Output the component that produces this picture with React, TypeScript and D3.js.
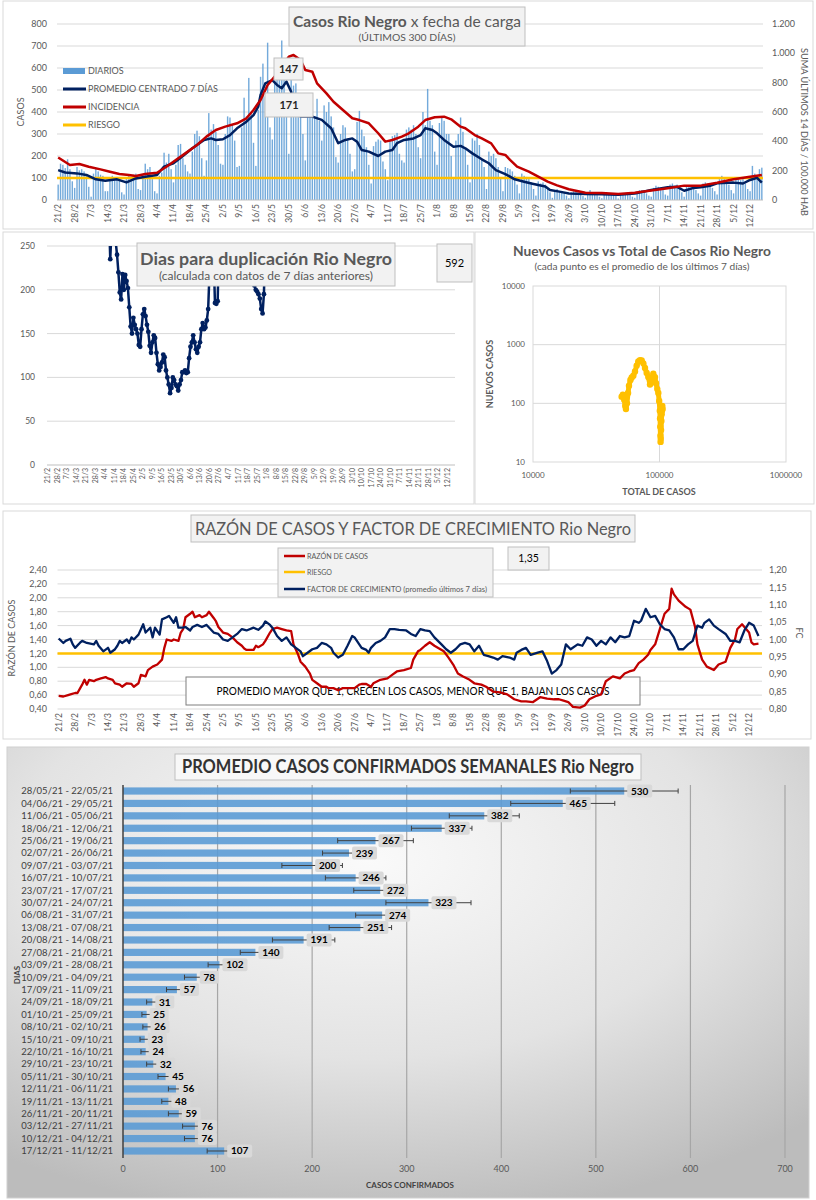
import * as d3 from "d3";
import { useEffect, useRef } from "react";

const FUENTE = "Lato, 'Open Sans', sans-serif";
const AZUL = "#002060";
const ROJO = "#c00000";
const ORO = "#ffc000";
const CELESTE = "#5b9bd5";
const GRIS = "#595959";
const GRILLA = "#d9d9d9";

// etiquetas semanales del eje de fechas (día 0 = 21/2)
const fechas = ["21/2", "28/2", "7/3", "14/3", "21/3", "28/3", "4/4", "11/4", "18/4", "25/4", "2/5", "9/5", "16/5", "23/5", "30/5", "6/6", "13/6", "20/6", "27/6", "4/7", "11/7", "18/7", "25/7", "1/8", "8/8", "15/8", "22/8", "29/8", "5/9", "12/9", "19/9", "26/9", "3/10", "10/10", "17/10", "24/10", "31/10", "7/11", "14/11", "21/11", "28/11", "5/12", "12/12"];

// casos diarios, 300 días
const diarios = [
  70, 165, 160, 145, 185, 140, 85,
  55, 150, 135, 140, 130, 110, 60,
  15, 120, 145, 130, 115, 110, 40,
  40, 95, 110, 100, 105, 90, 35,
  25, 100, 110, 95, 115, 120, 50,
  45, 115, 165, 140, 150, 95, 40,
  30, 110, 125, 215, 170, 210, 140,
  80, 160, 250, 255, 190, 160, 130,
  120, 220, 300, 315, 290, 190, 110,
  180, 395, 320, 345, 310, 250, 165,
  160, 300, 380, 375, 345, 270, 150,
  155, 330, 465, 380, 555, 400, 260,
  155, 410, 560, 620, 470, 715, 330,
  275, 560, 620, 560, 725, 590, 420,
  210, 560, 520, 530, 480, 470, 300,
  180, 430, 400, 440, 380, 460, 360,
  270, 430, 400, 445, 380, 330, 195,
  170, 300, 340, 330, 280, 210, 130,
  140, 355, 405, 320, 290, 240, 160,
  75, 245, 265, 275, 270, 175, 140,
  90, 270, 290, 295, 305, 210, 180,
  170, 320, 330, 320, 340, 300, 240,
  190, 400, 340, 505, 360, 340, 220,
  160, 350, 380, 360, 300, 300, 200,
  100, 270, 300, 375, 310, 230, 160,
  80, 280, 270, 300, 250, 190, 150,
  50, 220, 200, 210, 190, 150, 100,
  40, 150, 145, 140, 130, 110, 70,
  30, 120, 110, 105, 95, 80, 50,
  20, 85, 75, 80, 70, 55, 35,
  10, 45, 50, 40, 40, 30, 20,
  8, 35, 40, 35, 30, 28, 18,
  10, 32, 45, 35, 30, 22, 15,
  8, 30, 35, 30, 28, 25, 18,
  7, 28, 32, 30, 30, 25, 15,
  10, 38, 45, 45, 40, 30, 20,
  15, 55, 65, 60, 55, 45, 25,
  20, 70, 75, 65, 70, 50, 35,
  15, 60, 65, 60, 55, 45, 30,
  20, 75, 80, 75, 70, 55, 40,
  25, 95, 110, 100, 90, 70, 45,
  30, 100, 95, 90, 95, 75, 50,
  40, 155, 120, 100, 140, 147,
];

// promedio centrado 7 días (eje izquierdo)
const promedioDia = [0, 3, 8, 12, 16, 20, 25, 29, 33, 37, 42, 45, 49, 53, 57, 62, 65, 67, 70, 73, 76, 80, 83, 85, 86, 88, 91, 93, 95, 97, 99, 100, 103, 108, 112, 116, 119, 122, 125, 127, 129, 132, 136, 139, 142, 144, 147, 151, 154, 156, 159, 161, 164, 168, 171, 173, 176, 180, 183, 186, 190, 194, 198, 202, 207, 209, 213, 217, 224, 231, 238, 245, 252, 259, 263, 266, 270, 273, 277, 280, 287, 291, 294, 297, 299];
const promedio = [136, 125, 121, 114, 94, 88, 94, 80, 98, 106, 114, 152, 167, 200, 235, 273, 280, 273, 276, 295, 326, 356, 386, 424, 477, 530, 545, 523, 508, 538, 492, 394, 380, 379, 364, 326, 258, 273, 280, 265, 227, 220, 200, 220, 227, 258, 273, 280, 295, 326, 318, 303, 273, 242, 246, 235, 212, 185, 167, 136, 118, 94, 83, 73, 61, 45, 38, 30, 27, 26, 24, 30, 45, 58, 60, 42, 55, 58, 65, 76, 79, 75, 91, 101, 79];

// incidencia: suma últimos 14 días / 100.000 hab (eje derecho)
const incidenciaDia = [0, 5, 9, 13, 18, 22, 26, 30, 33, 37, 42, 46, 50, 54, 59, 63, 67, 71, 76, 80, 83, 86, 89, 92, 95, 98, 100, 103, 105, 108, 110, 114, 117, 121, 125, 128, 132, 136, 139, 142, 146, 149, 153, 156, 160, 164, 167, 171, 173, 177, 180, 184, 187, 190, 192, 195, 200, 204, 208, 212, 217, 224, 231, 238, 245, 252, 259, 266, 273, 280, 287, 294, 299];
const incidencia = [290, 239, 245, 227, 209, 193, 177, 170, 163, 177, 186, 227, 273, 318, 375, 432, 477, 500, 523, 557, 614, 682, 784, 841, 909, 977, 989, 955, 886, 875, 795, 727, 670, 614, 557, 545, 523, 455, 398, 409, 432, 455, 500, 545, 564, 568, 550, 500, 489, 443, 420, 386, 318, 307, 273, 227, 193, 159, 125, 100, 73, 50, 48, 41, 50, 64, 80, 98, 98, 118, 141, 159, 171];

const riesgoCasos = 100;
const ejeCasos = [0, 100, 200, 300, 400, 500, 600, 700, 800];
const ejeIncidencia = [0, 200, 400, 600, 800, 1000, 1200];
const etiquetasIncidencia = ["0", "200", "400", "600", "800", "1.000", "1.200"];

// días para duplicación, uno por día desde el día 44
const duplicacionInicio = 44;
const duplicacion = [
  330, 290, 235, 270, 300, 270, 255, 240, 220, 197, 189, 218, 200, 217, 210, 202,
  180, 158, 150, 168, 160, 155, 150, 137, 135, 155, 172, 178, 170, 160, 152, 136,
  128, 140, 148, 145, 128, 115, 108, 112, 117, 126, 123, 108, 100, 92, 82, 88,
  100, 97, 92, 90, 85, 92, 97, 106, 106, 108, 105, 106, 122, 135, 140, 148,
  140, 132, 128, 135, 140, 155, 162, 155, 157, 165, 178, 220, 290, 310, 240, 185,
  184, 187, 260, 330, 360, 410, 440, 470, 430, 400, 420, 460, 500, 480, 450, 430,
  400, 380, 370, 350, 340, 330, 310, 300, 290, 280, 270, 210, 205, 200, 198, 195,
  190, 178, 173, 195, 260, 320, 380,
];
const ultimaDuplicacion = 592;
const ejeDuplicacion = [0, 50, 100, 150, 200, 250];

// nuevos casos (promedio 7 días) vs total de casos
const dispersionTotal = [50200, 51300, 52600, 53600, 54300, 55300, 56400, 57400, 58900, 60300, 62100, 64000, 66000, 68000, 70100, 72300, 74500, 76800, 79200, 81600, 84100, 86700, 89300, 92100, 93800, 96100, 97900, 99400, 100600, 101000, 101400, 101700, 102000, 102300, 102900, 103500, 104000, 104600, 105200, 105800];
const dispersionNuevos = [130, 140, 115, 90, 80, 100, 150, 200, 250, 275, 295, 350, 440, 520, 545, 540, 480, 400, 330, 280, 210, 250, 320, 280, 220, 175, 150, 110, 75, 55, 40, 28, 22, 25, 35, 50, 65, 75, 90, 80];
const ejeDispersionX = [10000, 100000, 1000000];
const ejeDispersionY = [10, 100, 1000, 10000];

// razón de casos (eje izquierdo) y factor de crecimiento (eje derecho)
const razonDia = [0, 2, 4, 5, 7, 8, 10, 11, 12, 13, 15, 16, 18, 20, 21, 23, 24, 26, 27, 29, 31, 32, 34, 35, 37, 38, 40, 42, 44, 45, 46, 48, 49, 51, 52, 53, 54, 56, 57, 58, 60, 61, 63, 64, 66, 67, 68, 70, 72, 74, 76, 78, 79, 80, 83, 84, 85, 87, 88, 90, 91, 93, 95, 97, 99, 100, 102, 103, 105, 107, 108, 110, 112, 114, 115, 117, 119, 121, 124, 126, 128, 129, 131, 133, 134, 137, 140, 142, 144, 147, 150, 151, 153, 154, 156, 158, 160, 162, 164, 166, 168, 170, 172, 175, 177, 180, 182, 185, 188, 191, 194, 197, 199, 202, 205, 208, 211, 213, 215, 217, 219, 222, 224, 226, 229, 231, 233, 236, 239, 241, 243, 245, 247, 249, 251, 252, 254, 256, 258, 260, 261, 262, 264, 267, 269, 271, 272, 274, 276, 279, 281, 284, 286, 288, 289, 291, 294, 295, 296, 298];
const razon = [0.59, 0.58, 0.6, 0.61, 0.63, 0.63, 0.75, 0.82, 0.75, 0.82, 0.8, 0.82, 0.84, 0.86, 0.84, 0.82, 0.77, 0.75, 0.72, 0.77, 0.76, 0.72, 0.77, 0.89, 0.87, 0.96, 1.01, 1.04, 1.11, 1.28, 1.4, 1.38, 1.4, 1.38, 1.5, 1.55, 1.72, 1.77, 1.8, 1.72, 1.75, 1.72, 1.75, 1.8, 1.71, 1.66, 1.58, 1.5, 1.48, 1.43, 1.36, 1.31, 1.27, 1.25, 1.25, 1.31, 1.29, 1.33, 1.38, 1.5, 1.55, 1.57, 1.55, 1.53, 1.52, 1.33, 1.18, 1.08, 1.01, 0.91, 0.82, 0.77, 0.72, 0.72, 0.7, 0.7, 0.67, 0.7, 0.7, 0.7, 0.75, 0.76, 0.76, 0.72, 0.77, 0.82, 0.84, 0.89, 0.94, 0.96, 0.99, 1.11, 1.23, 1.25, 1.31, 1.36, 1.31, 1.27, 1.23, 1.14, 1.04, 0.91, 0.87, 0.82, 0.77, 0.75, 0.72, 0.65, 0.64, 0.61, 0.54, 0.51, 0.51, 0.5, 0.57, 0.55, 0.54, 0.54, 0.52, 0.5, 0.43, 0.42, 0.45, 0.54, 0.59, 0.61, 0.8, 0.87, 0.84, 0.91, 0.94, 0.96, 1.06, 1.11, 1.18, 1.25, 1.33, 1.55, 1.77, 1.84, 2.13, 2.05, 1.96, 1.87, 1.83, 1.58, 1.33, 1.11, 1.01, 0.96, 1.04, 1.08, 1.28, 1.4, 1.55, 1.62, 1.5, 1.36, 1.33, 1.34, 1.31, 1.35];
const fcDia = [0, 2, 3, 5, 6, 7, 9, 10, 12, 15, 16, 17, 19, 21, 22, 24, 25, 26, 27, 29, 30, 31, 32, 34, 36, 37, 39, 40, 41, 43, 44, 46, 47, 49, 50, 51, 53, 54, 56, 57, 59, 61, 63, 66, 68, 70, 72, 74, 76, 78, 80, 83, 85, 87, 88, 90, 91, 93, 95, 97, 99, 101, 103, 104, 106, 108, 110, 112, 114, 116, 117, 119, 121, 123, 125, 126, 129, 131, 132, 133, 135, 137, 139, 141, 143, 145, 148, 150, 152, 154, 156, 158, 160, 163, 165, 167, 169, 171, 173, 175, 177, 179, 181, 183, 185, 187, 189, 192, 194, 195, 197, 199, 201, 204, 206, 208, 210, 212, 214, 216, 218, 221, 223, 225, 227, 229, 231, 233, 235, 237, 239, 241, 243, 245, 247, 248, 250, 252, 254, 256, 258, 260, 262, 264, 266, 268, 270, 272, 274, 275, 277, 279, 281, 284, 286, 288, 290, 292, 294, 296, 298];
const fc = [1.003, 0.99, 0.996, 1.002, 0.986, 0.976, 0.99, 0.996, 0.99, 0.986, 0.996, 0.982, 0.966, 0.976, 0.962, 0.972, 0.982, 0.996, 0.99, 1.0, 0.99, 1.006, 1.0, 1.014, 1.044, 1.02, 1.034, 1.006, 1.034, 1.014, 1.058, 1.064, 1.068, 1.048, 1.064, 1.034, 1.034, 1.036, 1.026, 1.036, 1.042, 1.036, 1.042, 1.02, 1.016, 1.0, 0.996, 1.006, 1.016, 1.03, 1.026, 1.034, 1.028, 1.04, 1.052, 1.042, 1.034, 1.01, 0.996, 1.006, 0.986, 0.976, 0.966, 0.952, 0.962, 0.972, 0.976, 0.99, 0.986, 0.976, 0.962, 0.948, 0.956, 0.982, 1.01, 1.006, 0.976, 0.97, 0.962, 0.976, 0.99, 0.996, 1.006, 1.03, 1.03, 1.028, 1.026, 1.016, 1.01, 1.03, 1.026, 1.024, 1.006, 0.986, 0.972, 0.962, 0.972, 0.986, 0.99, 0.986, 0.966, 0.982, 0.956, 0.952, 0.948, 0.942, 0.952, 0.948, 0.942, 0.962, 0.97, 0.976, 0.956, 0.962, 0.966, 0.938, 0.902, 0.912, 0.928, 0.986, 0.972, 0.986, 0.982, 1.006, 1.0, 0.982, 0.996, 0.986, 1.006, 0.992, 1.01, 1.006, 1.01, 1.054, 1.048, 1.054, 1.088, 1.064, 1.068, 1.044, 1.03, 1.026, 1.006, 0.972, 0.972, 0.986, 0.996, 1.04, 1.034, 1.048, 1.058, 1.04, 1.03, 1.016, 0.996, 0.996, 0.992, 1.026, 1.048, 1.04, 1.01];
const riesgoRazon = 1.2;
const ejeRazon = [0.4, 0.6, 0.8, 1.0, 1.2, 1.4, 1.6, 1.8, 2.0, 2.2, 2.4];
const ejeFc = [0.8, 0.85, 0.9, 0.95, 1.0, 1.05, 1.1, 1.15, 1.2];

// promedio de casos confirmados por semana
const semanas = ["28/05/21 - 22/05/21", "04/06/21 - 29/05/21", "11/06/21 - 05/06/21", "18/06/21 - 12/06/21", "25/06/21 - 19/06/21", "02/07/21 - 26/06/21", "09/07/21 - 03/07/21", "16/07/21 - 10/07/21", "23/07/21 - 17/07/21", "30/07/21 - 24/07/21", "06/08/21 - 31/07/21", "13/08/21 - 07/08/21", "20/08/21 - 14/08/21", "27/08/21 - 21/08/21", "03/09/21 - 28/08/21", "10/09/21 - 04/09/21", "17/09/21 - 11/09/21", "24/09/21 - 18/09/21", "01/10/21 - 25/09/21", "08/10/21 - 02/10/21", "15/10/21 - 09/10/21", "22/10/21 - 16/10/21", "29/10/21 - 23/10/21", "05/11/21 - 30/10/21", "12/11/21 - 06/11/21", "19/11/21 - 13/11/21", "26/11/21 - 20/11/21", "03/12/21 - 27/11/21", "10/12/21 - 04/12/21", "17/12/21 - 11/12/21"];
const promedios = [530, 465, 382, 337, 267, 239, 200, 246, 272, 323, 274, 251, 191, 140, 102, 78, 57, 31, 25, 26, 23, 24, 32, 45, 56, 48, 59, 76, 76, 107];
const errores = [57, 55, 37, 32, 40, 28, 32, 32, 28, 45, 28, 33, 33, 16, 12, 13, 11, 6, 5, 5, 5, 5, 7, 8, 8, 7, 11, 13, 11, 18];
const ejeSemanal = [0, 100, 200, 300, 400, 500, 600, 700];

type Sel = d3.Selection<any, any, any, any>;

function texto(g: Sel, x: number, y: number, s: string, size: number, o: any = {}) {
  const t = g.append("text")
    .attr("x", x).attr("y", y)
    .attr("font-size", size)
    .attr("fill", o.fill ?? GRIS)
    .attr("text-anchor", o.anchor ?? "start")
    .attr("font-weight", o.bold ? "bold" : "normal")
    .text(s);
  if (o.dy) t.attr("dy", o.dy);
  if (o.len) t.attr("textLength", o.len).attr("lengthAdjust", "spacingAndGlyphs");
  if (o.rot) t.attr("transform", `rotate(${o.rot},${x},${y})`);
  return t;
}

function caja(g: Sel, x: number, y: number, w: number, h: number, fill = "#f2f2f2", stroke = "#bfbfbf") {
  return g.append("rect").attr("x", x).attr("y", y).attr("width", w).attr("height", h)
    .attr("fill", fill).attr("stroke", stroke);
}

function marco(g: Sel, x: number, y: number, w: number, h: number) {
  caja(g, x, y, w, h, "#fff", GRILLA);
}

function etiquetasFecha(g: Sel, x: d3.ScaleLinear<number, number>, y: number, size: number) {
  g.append("g").selectAll("text").data(fechas).join("text")
    .attr("x", (_, i) => x(i * 7 + 0.5)).attr("y", y)
    .attr("dy", "0.35em")
    .attr("text-anchor", "end")
    .attr("font-size", size)
    .attr("fill", GRIS)
    .attr("transform", (_, i) => `rotate(-90,${x(i * 7 + 0.5)},${y})`)
    .text(d => d);
}

function graficoCasos(g: Sel) {
  marco(g, 3, 1, 810, 228);
  const x = d3.scaleLinear().domain([0, 300]).range([57, 763]);
  const yL = d3.scaleLinear().domain([0, 800]).range([200, 24]);
  const yR = d3.scaleLinear().domain([0, 1200]).range([200, 24]);

  g.append("g").selectAll("line").data(ejeCasos.slice(1)).join("line")
    .attr("x1", x(0)).attr("x2", x(300)).attr("y1", d => yL(d)).attr("y2", d => yL(d))
    .attr("stroke", GRILLA);

  const bw = x(1) - x(0);
  g.append("g").selectAll("rect").data(diarios).join("rect")
    .attr("x", (_, i) => x(i) + bw * 0.2).attr("width", bw * 0.6)
    .attr("y", d => yL(d)).attr("height", d => yL(0) - yL(d))
    .attr("fill", CELESTE).attr("opacity", 0.85);

  g.append("line").attr("x1", x(0)).attr("x2", x(300)).attr("y1", yL(0)).attr("y2", yL(0)).attr("stroke", "#bfbfbf");

  g.append("line").attr("x1", x(0)).attr("x2", x(300))
    .attr("y1", yL(riesgoCasos)).attr("y2", yL(riesgoCasos))
    .attr("stroke", ORO).attr("stroke-width", 2.5);

  const lineaProm = d3.line<number>().x((_, i) => x(promedioDia[i] + 0.5)).y(d => yL(d));
  g.append("path").datum(promedio).attr("d", lineaProm).attr("fill", "none")
    .attr("stroke", AZUL).attr("stroke-width", 2.5).attr("stroke-linejoin", "round");

  const lineaInc = d3.line<number>().x((_, i) => x(incidenciaDia[i] + 0.5)).y(d => yR(d));
  g.append("path").datum(incidencia).attr("d", lineaInc).attr("fill", "none")
    .attr("stroke", ROJO).attr("stroke-width", 2.5).attr("stroke-linejoin", "round");

  ejeCasos.forEach(v => texto(g, 47, yL(v), String(v), 9, { anchor: "end", dy: "0.35em" }));
  ejeIncidencia.forEach((v, i) => texto(g, 772, yR(v), etiquetasIncidencia[i], 9, { dy: "0.35em" }));
  etiquetasFecha(g, x, 204, 8.5);

  texto(g, 24, 112, "CASOS", 9, { anchor: "middle", rot: -90 });
  texto(g, 801, 132, "SUMA  ÚLTIMOS 14 DÍAS / 100.000 HAB", 9.5, { anchor: "middle", rot: 90, len: 168 });

  // leyenda
  const ly = [71, 89, 107, 125];
  g.append("rect").attr("x", 63).attr("y", ly[0] - 3).attr("width", 22).attr("height", 6).attr("fill", CELESTE);
  [AZUL, ROJO, ORO].forEach((c, i) => g.append("line").attr("x1", 63).attr("x2", 86)
    .attr("y1", ly[i + 1]).attr("y2", ly[i + 1]).attr("stroke", c).attr("stroke-width", 3));
  ["DIARIOS", "PROMEDIO CENTRADO 7 DÍAS", "INCIDENCIA", "RIESGO"].forEach((s, i) =>
    texto(g, 88, ly[i], s, 9, { dy: "0.35em" }));

  // título
  caja(g, 289, 7, 236, 39);
  const t = texto(g, 407, 27, "", 16, { anchor: "middle", len: 228 });
  t.append("tspan").attr("font-weight", "bold").text("Casos Rio Negro");
  t.append("tspan").text(" x fecha de carga");
  texto(g, 407, 41, "(ÚLTIMOS 300 DÍAS)", 9.5, { anchor: "middle", len: 97 });

  // últimos valores
  caja(g, 274, 58, 29, 22);
  texto(g, 288.5, 69, String(diarios[diarios.length - 1]), 11, { anchor: "middle", dy: "0.35em", bold: true, fill: "#262626" });
  caja(g, 265, 93, 48, 24);
  texto(g, 289, 105, String(incidencia[incidencia.length - 1]), 11, { anchor: "middle", dy: "0.35em", bold: true, fill: "#262626" });
}

function graficoDuplicacion(g: Sel) {
  marco(g, 3, 232, 471, 272);
  const x = d3.scaleLinear().domain([0, 300]).range([47, 455]);
  const y = d3.scaleLinear().domain([0, 250]).range([465, 246]);

  g.append("g").selectAll("line").data(ejeDuplicacion.slice(1)).join("line")
    .attr("x1", x(0)).attr("x2", x(300)).attr("y1", d => y(d)).attr("y2", d => y(d))
    .attr("stroke", GRILLA);
  g.append("line").attr("x1", x(0)).attr("x2", x(300)).attr("y1", y(0)).attr("y2", y(0)).attr("stroke", "#bfbfbf");

  g.append("clipPath").attr("id", "clipDup").append("rect")
    .attr("x", x(0)).attr("y", y(250)).attr("width", x(300) - x(0)).attr("height", y(0) - y(250) + 5);
  const gc = g.append("g").attr("clip-path", "url(#clipDup)");
  const linea = d3.line<number>().x((_, i) => x(duplicacionInicio + i + 0.5)).y(d => y(d));
  gc.append("path").datum(duplicacion).attr("d", linea).attr("fill", "none")
    .attr("stroke", AZUL).attr("stroke-width", 2.5).attr("stroke-linejoin", "round");
  gc.selectAll("circle").data(duplicacion).join("circle")
    .attr("cx", (_, i) => x(duplicacionInicio + i + 0.5)).attr("cy", d => y(d))
    .attr("r", 2.4).attr("fill", AZUL);

  ejeDuplicacion.forEach(v => texto(g, 35, y(v), String(v), 8.5, { anchor: "end", dy: "0.35em" }));
  etiquetasFecha(g, x, 468, 7);

  caja(g, 137, 243, 258, 43);
  texto(g, 266, 265, "Dias para duplicación Rio Negro", 17, { anchor: "middle", bold: true, len: 252 });
  texto(g, 266, 280, "(calculada con datos de 7 días anteriores)", 10.5, { anchor: "middle", len: 214 });

  caja(g, 437, 244, 35, 38);
  texto(g, 454.5, 263, String(ultimaDuplicacion), 11, { anchor: "middle", dy: "0.35em", fill: "#000" });
}

function graficoDispersion(g: Sel) {
  marco(g, 475, 232, 339, 272);
  const x = d3.scaleLog().domain([1e4, 1e6]).range([533, 786]);
  const y = d3.scaleLog().domain([10, 1e4]).range([462, 286]);

  g.append("rect").attr("x", x(1e4)).attr("y", y(1e4)).attr("width", x(1e6) - x(1e4)).attr("height", y(10) - y(1e4))
    .attr("fill", "none").attr("stroke", GRILLA);
  g.append("line").attr("x1", x(1e5)).attr("x2", x(1e5)).attr("y1", y(1e4)).attr("y2", y(10)).attr("stroke", GRILLA);
  [100, 1000].forEach(v => g.append("line").attr("x1", x(1e4)).attr("x2", x(1e6))
    .attr("y1", y(v)).attr("y2", y(v)).attr("stroke", GRILLA));

  const linea = d3.line<number>().x(d => x(d)).y((_, i) => y(dispersionNuevos[i]));
  g.append("path").datum(dispersionTotal).attr("d", linea).attr("fill", "none")
    .attr("stroke", ORO).attr("stroke-width", 5).attr("stroke-linejoin", "round").attr("stroke-linecap", "round");
  g.append("g").selectAll("circle").data(dispersionTotal).join("circle")
    .attr("cx", d => x(d)).attr("cy", (_, i) => y(dispersionNuevos[i])).attr("r", 3.2).attr("fill", ORO);

  ejeDispersionY.forEach(v => texto(g, 525, y(v), String(v), 8, { anchor: "end", dy: "0.35em" }));
  ejeDispersionX.forEach(v => texto(g, x(v), 478, String(v), 8, { anchor: "middle" }));

  texto(g, 493, 374, "NUEVOS CASOS", 9, { anchor: "middle", bold: true, rot: -90 });
  texto(g, 659, 495, "TOTAL DE CASOS", 9, { anchor: "middle", bold: true });
  texto(g, 642, 256, "Nuevos Casos vs Total de Casos Rio Negro", 13.5, { anchor: "middle", bold: true, len: 258 });
  texto(g, 642, 270, "(cada punto es el promedio de los últimos 7 días)", 8.5, { anchor: "middle", len: 215 });
}

function graficoRazon(g: Sel) {
  marco(g, 3, 511, 808, 228);
  const x = d3.scaleLinear().domain([0, 300]).range([57.5, 762]);
  const yL = d3.scaleLinear().domain([0.4, 2.4]).range([709, 570]);
  const yR = d3.scaleLinear().domain([0.8, 1.2]).range([709, 570]);
  const coma = (v: number, n: number) => v.toFixed(n).replace(".", ",");

  g.append("g").selectAll("line").data(ejeRazon).join("line")
    .attr("x1", x(0)).attr("x2", x(300)).attr("y1", d => yL(d)).attr("y2", d => yL(d))
    .attr("stroke", GRILLA);

  // nota explicativa (debajo de las líneas)
  caja(g, 186, 677, 454, 28, "#fff", "#7f7f7f");
  texto(g, 413, 691, "PROMEDIO MAYOR QUE 1, CRECEN LOS CASOS, MENOR QUE 1, BAJAN LOS CASOS", 10.5, { anchor: "middle", dy: "0.35em", fill: "#000", len: 393 });

  g.append("line").attr("x1", x(0)).attr("x2", x(300))
    .attr("y1", yL(riesgoRazon)).attr("y2", yL(riesgoRazon)).attr("stroke", ORO).attr("stroke-width", 2.5);

  const lineaRazon = d3.line<number>().x((_, i) => x(razonDia[i] + 0.5)).y(d => yL(d));
  g.append("path").datum(razon).attr("d", lineaRazon).attr("fill", "none")
    .attr("stroke", ROJO).attr("stroke-width", 2.3).attr("stroke-linejoin", "round");
  const lineaFc = d3.line<number>().x((_, i) => x(fcDia[i] + 0.5)).y(d => yR(d));
  g.append("path").datum(fc).attr("d", lineaFc).attr("fill", "none")
    .attr("stroke", AZUL).attr("stroke-width", 2.3).attr("stroke-linejoin", "round");

  ejeRazon.forEach(v => texto(g, 47, yL(v), coma(v, 2), 9, { anchor: "end", dy: "0.35em" }));
  ejeFc.forEach(v => texto(g, 769, yR(v), coma(v, 2), 9, { dy: "0.35em" }));
  etiquetasFecha(g, x, 713, 8.5);

  texto(g, 15, 638, "RAZÓN DE CASOS", 9, { anchor: "middle", rot: -90 });
  texto(g, 796, 633, "FC", 9, { anchor: "middle", rot: 90 });

  caja(g, 191, 515, 444, 27);
  texto(g, 413, 535, "RAZÓN DE CASOS Y FACTOR DE CRECIMIENTO Rio Negro", 17, { anchor: "middle", len: 436 });

  caja(g, 278, 548, 215, 49);
  const ly = [556, 572, 589];
  [ROJO, ORO, AZUL].forEach((c, i) => g.append("line").attr("x1", 284).attr("x2", 305)
    .attr("y1", ly[i]).attr("y2", ly[i]).attr("stroke", c).attr("stroke-width", 2.5));
  texto(g, 307, ly[0], "RAZÓN DE CASOS", 7.5, { dy: "0.35em", len: 61 });
  texto(g, 307, ly[1], "RIESGO", 7.5, { dy: "0.35em", len: 25 });
  texto(g, 307, ly[2], "FACTOR DE CRECIMIENTO (promedio últimos 7 días)", 7.5, { dy: "0.35em", len: 180 });

  caja(g, 508, 547, 41, 23);
  texto(g, 528.5, 558.5, coma(razon[razon.length - 1], 2), 10.5, { anchor: "middle", dy: "0.35em", fill: "#000" });
}

function graficoSemanal(g: Sel) {
  const defs = g.append("defs");
  const rg = defs.append("radialGradient").attr("id", "fondoSemanal")
    .attr("cx", "45%").attr("cy", "25%").attr("r", "80%");
  rg.append("stop").attr("offset", "0%").attr("stop-color", "#fafafa");
  rg.append("stop").attr("offset", "55%").attr("stop-color", "#e3e3e3");
  rg.append("stop").attr("offset", "100%").attr("stop-color", "#bcbcbc");
  g.append("rect").attr("x", 7).attr("y", 747).attr("width", 802).attr("height", 451)
    .attr("fill", "url(#fondoSemanal)").attr("stroke", "#d0d0d0");

  const x = d3.scaleLinear().domain([0, 700]).range([123, 785]);
  const y = d3.scaleBand<string>().domain(semanas).range([784.8, 1157.2]).paddingInner(0.42).paddingOuter(0.21);
  const yc = (s: string) => (y(s) ?? 0) + y.bandwidth() / 2;

  g.append("g").selectAll("line").data(ejeSemanal.slice(1)).join("line")
    .attr("x1", d => x(d)).attr("x2", d => x(d)).attr("y1", 785).attr("y2", 1158)
    .attr("stroke", "#a6a6a6").attr("stroke-width", 1.2);

  g.append("g").selectAll("rect").data(promedios).join("rect")
    .attr("x", x(0)).attr("y", (_, i) => y(semanas[i]) ?? 0)
    .attr("width", d => x(d) - x(0)).attr("height", y.bandwidth())
    .attr("fill", CELESTE).attr("opacity", 0.9);

  g.append("line").attr("x1", x(0)).attr("x2", x(0)).attr("y1", 785).attr("y2", 1158)
    .attr("stroke", "#404040").attr("stroke-width", 1.5);

  const ge = g.append("g").attr("stroke", "#404040").attr("stroke-width", 1);
  promedios.forEach((v, i) => {
    const cy = yc(semanas[i]);
    const a = x(v - errores[i]), b = x(v + errores[i]);
    ge.append("line").attr("x1", a).attr("x2", b).attr("y1", cy).attr("y2", cy);
    ge.append("line").attr("x1", a).attr("x2", a).attr("y1", cy - 2.5).attr("y2", cy + 2.5);
    ge.append("line").attr("x1", b).attr("x2", b).attr("y1", cy - 2.5).attr("y2", cy + 2.5);
  });

  promedios.forEach((v, i) => {
    const cy = yc(semanas[i]);
    const w = v >= 100 ? 25 : 19;
    g.append("rect").attr("x", x(v) + 3).attr("y", cy - 6.5).attr("width", w).attr("height", 13)
      .attr("rx", 2).attr("fill", "#d9d9d9");
    texto(g, x(v) + 3 + w / 2, cy, String(v), 10, { anchor: "middle", dy: "0.35em", bold: true, fill: "#000" });
  });

  semanas.forEach(s => texto(g, 113, yc(s), s, 9.5, { anchor: "end", dy: "0.35em", fill: "#404040" }));
  ejeSemanal.forEach(v => texto(g, x(v), 1172, String(v), 9, { anchor: "middle" }));

  texto(g, 410, 1188, "CASOS CONFIRMADOS", 8, { anchor: "middle", bold: true, fill: "#404040" });
  texto(g, 20, 975, "DIAS", 8, { anchor: "middle", bold: true, rot: -90, fill: "#404040" });

  caja(g, 175, 754, 466, 26, "#f8f8f8", "#bfbfbf");
  texto(g, 408, 773, "PROMEDIO CASOS CONFIRMADOS SEMANALES Rio Negro", 18, { anchor: "middle", bold: true, fill: "#333", len: 452 });
}

export default function App() {
  const svgRef = useRef<SVGSVGElement>(null);

  useEffect(() => {
    if (!svgRef.current) return;
    const svg = d3.select(svgRef.current);
    svg.selectAll("*").remove();
    svg.append("rect").attr("width", 816).attr("height", 1200).attr("fill", "#fff");
    graficoCasos(svg.append("g"));
    graficoDuplicacion(svg.append("g"));
    graficoDispersion(svg.append("g"));
    graficoRazon(svg.append("g"));
    graficoSemanal(svg.append("g"));
  }, []);

  return (
    <svg ref={svgRef} width={816} height={1200}
      style={{ position: "absolute", left: 0, top: 0, fontFamily: FUENTE }} />
  );
}
